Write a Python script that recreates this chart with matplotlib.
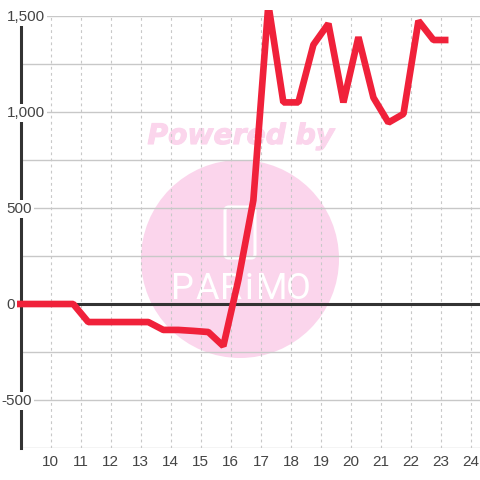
import matplotlib
matplotlib.use('Agg')
from matplotlib import pyplot as plt
from matplotlib import patheffects
from matplotlib.patches import Circle, FancyBboxPatch, Rectangle
from matplotlib.transforms import offset_copy

plt.rcParams['font.family'] = ['Liberation Sans', 'DejaVu Sans']

# half-hourly values
hours = [8.75, 9.25, 9.75, 10.25, 10.75, 11.25, 11.75, 12.25, 12.75, 13.25, 13.75, 14.25, 14.75,
         15.25, 15.75, 16.25, 16.75, 17.25, 17.75, 18.25, 18.75, 19.25, 19.75, 20.25, 20.75,
         21.25, 21.75, 22.25, 22.75, 23.25]
values = [0, 0, 0, 0, 0, -94, -94, -94, -94, -94, -135, -135, -140,
          -146, -219, 125, 540, 1560, 1050, 1050, 1350, 1460, 1050, 1390, 1075,
          945, 990, 1475, 1375, 1375]

x_ticks = list(range(10, 25))
y_grid = [-750, -500, -250, 0, 250, 500, 750, 1000, 1250, 1500]
y_labels = {-500: '-500', 0: '0', 500: '500', 1000: '1,000', 1500: '1,500'}

RED = '#f0213a'
DARK = '#333333'
TEXT = '#444444'
GRID = '#c8c8c8'
PINK = '#fbd5ec'


def px(x, y):
    # pixel position (from top left) to figure fraction
    return x / 480, 1 - y / 480


fig = plt.figure(figsize=(4.8, 4.8), dpi=100)
left, bottom = px(20.7, 448)
ax = fig.add_axes([left, bottom, 1 - left, 432 / 480])
ax.set_xlim(9, 24.3)
ax.set_ylim(-750, 1500)

# watermark
ax.add_patch(Circle(px(240, 259), 99 / 480, transform=fig.transFigure, color=PINK, lw=0, zorder=0, clip_on=False))
x0, y0 = px(225, 258)
ax.add_patch(FancyBboxPatch((x0, y0), 30 / 480, 51 / 480, boxstyle='round,pad=0,rounding_size=0.008',
                            transform=fig.transFigure, fc='none', ec='white', lw=2.2, zorder=0.5, clip_on=False))
for letter, lx in zip('PARiMO', [182, 207, 231, 249, 272, 298]):
    fig_x, fig_y = px(lx, 289)
    ax.text(fig_x, fig_y, letter, transform=fig.transFigure, color='white', family='Roboto', weight='regular',
            fontsize=26, ha='center', va='center', zorder=0.5)
fig_x, fig_y = px(241, 136)
powered = ax.text(fig_x, fig_y, 'Powered by', transform=fig.transFigure, color=PINK, family='DejaVu Sans',
                  weight='bold', style='italic', fontsize=20.3, ha='center', va='center', zorder=0.5)
powered.set_path_effects([patheffects.withStroke(linewidth=0.8, foreground=PINK)])

# grid
ax.set_yticks(y_grid)
ax.set_xticks(x_ticks)
ax.set_yticklabels([])
ax.set_axisbelow(True)
ax.grid(axis='y', color=GRID, lw=1, ls='-', zorder=1)
ax.grid(axis='x', color=GRID, lw=0.8, ls=(0, (2.5, 3)), zorder=1)
ax.tick_params(axis='both', length=0)
ax.tick_params(axis='x', labelsize=11, labelcolor=TEXT, pad=5)

for name in ['top', 'right', 'bottom']:
    ax.spines[name].set_visible(False)
ax.spines['left'].set_linewidth(2.2)
ax.spines['left'].set_color(DARK)
ax.spines['left'].set_zorder(2)
ax.axhline(0, color=DARK, lw=2.2, zorder=2)

# y labels sit on white boxes that cut the axis line
label_x = offset_copy(ax.get_yaxis_transform(), fig=fig, y=-1, units='dots')
for value, label in y_labels.items():
    start = -19 / 459 if value < 0 else -14 / 459
    ax.text(start, value, label, transform=label_x, color=TEXT, fontsize=11, ha='left', va='center',
            clip_on=False, zorder=3, bbox=dict(fc='white', ec='none', pad=1.5))

line, = ax.plot(hours, values, color=RED, lw=4.8, solid_joinstyle='bevel', solid_capstyle='butt', zorder=4)
clip_x, clip_y = px(17, 448)
line.set_clip_path(Rectangle((clip_x, clip_y), 1 - clip_x, 438 / 480, transform=fig.transFigure))

fig.savefig('out.png', dpi=100)
